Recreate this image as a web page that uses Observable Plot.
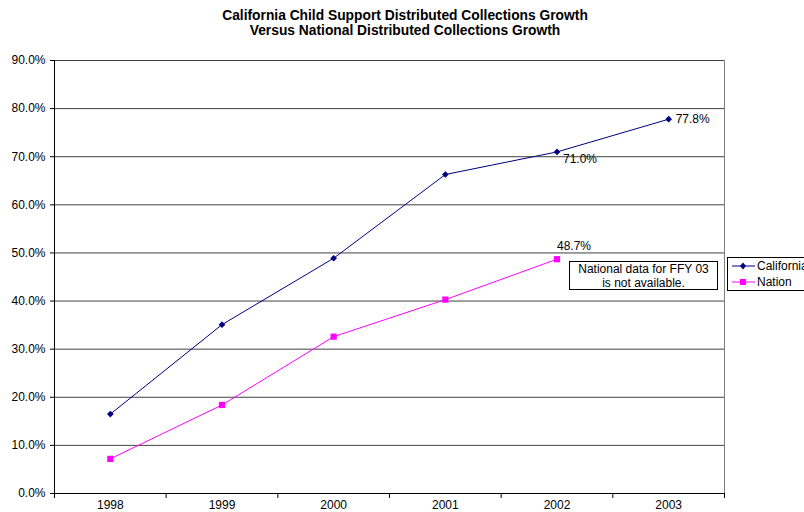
<!DOCTYPE html>
<html>
<head>
<meta charset="utf-8">
<script src="https://cdn.jsdelivr.net/npm/d3@7"></script>
<script src="https://cdn.jsdelivr.net/npm/@observablehq/plot@0.6"></script>
<style>
  html, body { margin: 0; padding: 0; background: #fff; overflow: hidden; }
  body { width: 804px; height: 512px; position: relative; font-family: "Liberation Sans", Arial, sans-serif; }
  #title { position: absolute; left: 0; top: 8px; width: 810px; text-align: center; font-weight: bold; font-size: 13.8px; line-height: 15px; color: #000; }
  #chart { position: absolute; left: 0; top: 45px; }
  #note { position: absolute; left: 569px; top: 261px; width: 147px; height: 27px; border: 1px solid #000; background: #fff; font-size: 12px; line-height: 14px; text-align: center; box-sizing: content-box; }
  #legend { position: absolute; left: 727px; top: 257px; width: 100px; height: 32px; border: 1px solid #000; background: #fff; font-size: 12px; }
  .row { position: absolute; left: 4px; height: 14px; display: flex; align-items: center; white-space: nowrap; }
  .row svg { margin-right: 2px; }
</style>
</head>
<body>
<div id="title">California Child Support Distributed Collections Growth<br>Versus National Distributed Collections Growth</div>
<div id="chart"></div>
<div id="note">National data for FFY 03<br>is not available.</div>
<div id="legend"></div>
<script>
const years = [1998, 1999, 2000, 2001, 2002, 2003];
const california = [16.5, 35.1, 48.9, 66.3, 71.0, 77.8];
const nationYears = [1998, 1999, 2000, 2001, 2002];
const nation = [7.2, 18.4, 32.6, 40.3, 48.7];
const yTicks = [0, 10, 20, 30, 40, 50, 60, 70, 80, 90];
const seriesNames = ["California", "Nation"];
const seriesColors = ["#000080", "#FF00FF"];

const calData = years.map((y, i) => ({year: y, value: california[i]}));
const natData = nationYears.map((y, i) => ({year: y, value: nation[i]}));
const bandEdges = [1997.5, 1998.5, 1999.5, 2000.5, 2001.5, 2002.5, 2003.5];
const fmt = d => d.toFixed(1) + "%";

const chart = Plot.plot({
  width: 804,
  height: 480,
  marginTop: 15,
  marginBottom: 32,
  marginLeft: 54,
  marginRight: 80,
  x: {domain: [1997.5, 2003.5]},
  y: {domain: [0, 90]},
  style: {fontFamily: "'Liberation Sans', Arial, sans-serif", fontSize: "12px", background: "transparent", color: "#000"},
  marks: [
    Plot.ruleY(yTicks.filter(d => d > 0), {stroke: "#404040", strokeWidth: 1}),
    Plot.ruleX([2003.5], {stroke: "#808080"}),
    Plot.ruleX([1997.5], {stroke: "#000"}),
    Plot.ruleY([0], {stroke: "#000"}),
    Plot.axisY({ticks: yTicks, tickFormat: fmt, tickSize: 4, tickPadding: 5, label: null, fill: "#000"}),
    Plot.axisX({ticks: years, tickFormat: d => String(d), tickSize: 0, tickPadding: 7, label: null, fill: "#000"}),
    Plot.axisX({ticks: bandEdges, tickFormat: () => "", tickSize: 5, label: null}),
    Plot.line(calData, {x: "year", y: "value", stroke: seriesColors[0], strokeWidth: 1}),
    Plot.line(natData, {x: "year", y: "value", stroke: seriesColors[1], strokeWidth: 1}),
    Plot.dot(calData, {x: "year", y: "value", symbol: "diamond2", r: 3, fill: seriesColors[0], stroke: "none"}),
    Plot.dot(natData, {x: "year", y: "value", symbol: "square", r: 3.5, fill: seriesColors[1], stroke: "none"}),
    Plot.text([calData[5]], {x: "year", y: "value", text: d => fmt(d.value), textAnchor: "start", dx: 7, dy: 0, fill: "#000"}),
    Plot.text([calData[4]], {x: "year", y: "value", text: d => fmt(d.value), textAnchor: "start", dx: 6, dy: 7, fill: "#000"}),
    Plot.text([natData[4]], {x: "year", y: "value", text: d => fmt(d.value), textAnchor: "start", dx: 0, dy: -13, fill: "#000"})
  ]
});
document.getElementById("chart").appendChild(chart);

const legend = document.getElementById("legend");
seriesNames.forEach((name, i) => {
  const row = document.createElement("div");
  row.className = "row";
  row.style.top = (i === 0 ? 1 : 17) + "px";
  const marker = i === 0
    ? `<path d="M11,3.5 L14,7 L11,10.5 L8,7 Z" fill="${seriesColors[i]}"/>`
    : `<rect x="8" y="4" width="6" height="6" fill="${seriesColors[i]}"/>`;
  row.innerHTML = `<svg width="23" height="14"><line x1="0" y1="7" x2="23" y2="7" stroke="${seriesColors[i]}" stroke-width="1"/>${marker}</svg><span>${name}</span>`;
  legend.appendChild(row);
});
</script>
</body>
</html>
